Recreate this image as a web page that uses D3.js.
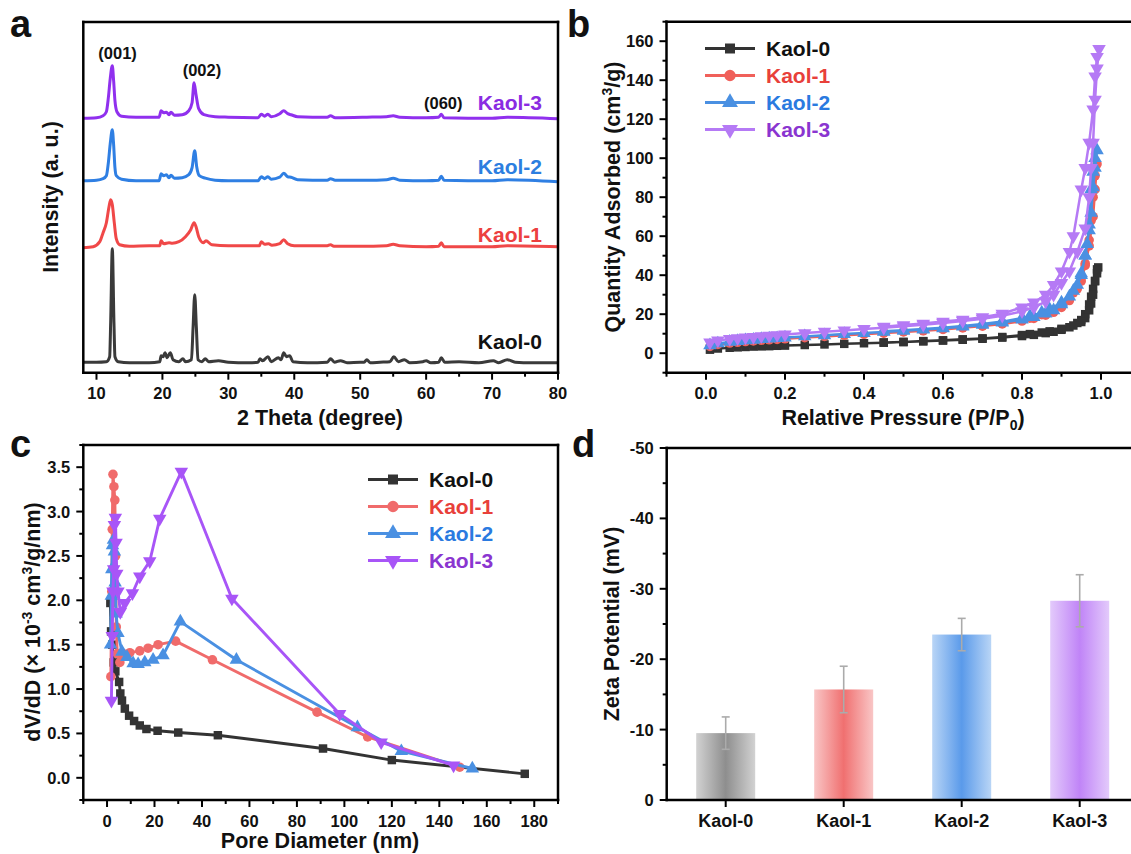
<!DOCTYPE html>
<html><head><meta charset="utf-8">
<script src="https://cdn.jsdelivr.net/npm/d3@7"></script>
<style>
body{margin:0;background:#fff}
text{font-family:"Liberation Sans",Arial,sans-serif;font-weight:bold;fill:#111}
</style>
</head><body><svg id="chart" width="1131" height="854"></svg>
<script>
// ---------------- DATA ----------------
const seriesNames = ["Kaol-0","Kaol-1","Kaol-2","Kaol-3"];

// (a) XRD patterns, [2theta, stacked intensity a.u.]
const xrd0 = [[8,10.5],[10,10.5],[11.5,11],[12.0,16],[12.15,50],[12.4,124],[12.65,50],[12.8,16],[13.3,11],[15,10],[18,10],[19.6,11],[19.8,17],[20.1,16],[20.4,20],[20.7,15],[21.2,20],[21.6,13],[22.5,11],[23.1,14],[23.5,11],[24.4,13],[24.65,45],[24.9,78],[25.15,45],[25.4,13],[26.0,11],[26.5,14],[27,11],[28.5,12],[30,10.5],[33,10],[34.5,10.5],[34.8,14],[35.2,12],[36,16],[36.5,11],[37.6,15],[38,13],[38.4,20],[38.8,16],[39.3,17],[39.8,11],[42,10],[45,10.5],[45.5,14],[46.1,10.5],[47,12],[48,10],[50,10.5],[50.6,10.5],[51,13],[51.5,10],[53,10.5],[54.5,11],[55.1,16],[55.8,11],[56.7,13],[57.5,10],[59.5,11],[60,12],[60.7,10],[61.9,10.5],[62.3,15],[62.8,10.5],[65,11],[68,10],[70.2,12],[71,10],[72.3,13],[73.5,10.5],[76,10],[80,10]];
const xrd1 = [[8,125],[9.5,126],[10.5,131],[11.0,140],[11.5,150],[11.9,166],[12.15,173],[12.4,168],[12.7,150],[13.0,134],[13.5,128],[15,126.5],[18,127],[19.6,127],[19.8,132],[20.2,129],[21.0,130],[21.5,129.5],[22.5,131],[23.5,136],[24.3,143],[24.8,150],[25.1,146],[25.5,136],[26.2,130],[26.6,132],[27.5,128],[30,127],[34,127],[34.7,127],[35,131],[35.5,128.5],[36.1,129],[36.6,127.5],[37.8,129],[38.4,133],[39,129],[40,127],[45,127],[45.5,128],[46,126.5],[50,126.5],[54,127],[55,128.5],[56,127],[60,126],[61.9,126.5],[62.3,130],[62.7,126],[70,126],[72.3,127],[80,126]];
const xrd2 = [[8,192],[10,192.5],[11,194],[11.5,197],[11.8,210],[12.1,230],[12.4,243],[12.6,228],[12.8,205],[13.0,197],[13.8,193.5],[16,192],[19.5,192],[19.8,199],[20.2,197],[20.6,198],[21.0,195],[21.3,197.5],[21.8,194.5],[23,195],[24,198],[24.5,205],[24.9,222],[25.2,206],[25.6,197],[26.5,194.5],[28,192.5],[30,192],[34.5,192],[35,196],[35.5,194],[36,196],[36.5,193.5],[37.8,195.5],[38.4,199.5],[39,196],[39.5,195.5],[40.5,193],[45,192.5],[45.5,194],[46.2,192.5],[51,192.5],[54,193],[55,194.5],[56,192.5],[60,192],[61.9,192.5],[62.3,196.5],[62.7,192.5],[70,192],[72.3,193],[80,191]];
const xrd3 = [[8,254.5],[10,255],[11,257],[11.5,261],[11.8,275],[12.1,295],[12.4,307],[12.6,292],[12.8,272],[13.1,261],[13.8,256.5],[16,255.5],[19.5,255.5],[19.8,262],[20.2,260],[20.6,260.5],[21.0,258],[21.3,260.5],[21.8,257.5],[23,258],[24,262],[24.5,270],[24.8,290],[25.1,278],[25.5,264],[26.3,258],[28,256],[30,255.5],[34.5,255],[35,258.5],[35.5,256.5],[36,258.5],[36.5,256],[37.8,259],[38.4,262],[39,259],[39.5,258],[40.5,256],[45,255.5],[45.5,257],[46.2,255],[51,255.5],[54,256],[55,257],[56,255.5],[60,255],[61.9,255.5],[62.3,258.5],[62.7,255],[70,254.5],[72.3,255.5],[80,254]];
// [label, 2theta position, intensity position]
const xrdPeaks = [["(001)",13.2,313.7],["(002)",26.0,296.7],["(060)",62.6,263.7]];
const xrdLabelVal = [31,138.7,206.7,270];

// (b) N2 isotherms [P/P0, cm3/g] adsorption then desorption
const iso0 = [[0.01,1.8],[0.03,2.4],[0.06,2.8],[0.08,3],[0.1,3.2],[0.12,3.4],[0.14,3.5],[0.16,3.6],[0.18,3.8],[0.2,3.9],[0.25,4.2],[0.3,4.5],[0.35,4.8],[0.4,5.1],[0.45,5.4],[0.5,5.7],[0.55,6.1],[0.6,6.5],[0.65,6.9],[0.7,7.4],[0.75,8],[0.8,8.8],[0.83,9.4],[0.86,10.3],[0.88,11],[0.9,12],[0.92,13.3],[0.94,15.5],[0.95,17],[0.96,20],[0.97,25],[0.975,29],[0.98,33],[0.985,37],[0.99,41],[0.993,44],
  [0.99,43],[0.985,37],[0.98,30],[0.975,25.5],[0.97,22],[0.96,18],[0.95,16],[0.93,14.2],[0.9,12.5],[0.87,11.2],[0.85,10.6],[0.82,9.8],[0.8,9.3],[0.75,8.3],[0.7,7.6],[0.65,7.1],[0.6,6.6],[0.55,6.2],[0.5,5.8],[0.45,5.5]];
const iso1 = [[0.01,3.5],[0.03,4.5],[0.06,5.2],[0.08,5.6],[0.1,6],[0.12,6.3],[0.14,6.6],[0.16,6.9],[0.18,7.1],[0.2,7.4],[0.25,8],[0.3,8.6],[0.35,9.2],[0.4,9.7],[0.45,10.3],[0.5,10.9],[0.55,11.5],[0.6,12.2],[0.65,13],[0.7,13.9],[0.75,15],[0.8,16.5],[0.83,17.8],[0.86,19.5],[0.88,21],[0.9,23.5],[0.92,27],[0.94,33],[0.95,37],[0.96,45],[0.97,55],[0.98,70],[0.985,84],[0.99,97],
  [0.985,91],[0.98,80],[0.975,68],[0.97,58],[0.96,46],[0.95,39],[0.93,31],[0.9,25],[0.87,21.5],[0.85,19.8],[0.82,18],[0.8,17],[0.75,15.4],[0.7,14.2],[0.65,13.3],[0.6,12.4],[0.55,11.7],[0.5,11.1],[0.45,10.5]];
const iso2 = [[0.01,4],[0.03,5],[0.06,5.8],[0.08,6.2],[0.1,6.6],[0.12,6.9],[0.14,7.2],[0.16,7.5],[0.18,7.7],[0.2,8],[0.25,8.6],[0.3,9.2],[0.35,9.8],[0.4,10.3],[0.45,10.9],[0.5,11.5],[0.55,12.1],[0.6,12.8],[0.65,13.6],[0.7,14.5],[0.75,15.7],[0.8,17.2],[0.83,18.5],[0.86,20.3],[0.88,22],[0.9,25],[0.92,29],[0.94,35],[0.95,40],[0.96,50],[0.97,63],[0.975,72],[0.98,85],[0.985,95],[0.99,104],
  [0.985,100],[0.98,93],[0.975,84],[0.97,66],[0.965,56],[0.96,50],[0.95,41],[0.93,32],[0.9,26],[0.87,22.5],[0.85,20.8],[0.82,19],[0.8,18],[0.75,16.2],[0.7,15],[0.65,14],[0.6,13.1],[0.55,12.4],[0.5,11.8],[0.45,11.2]];
const iso3 = [[0.01,5.5],[0.03,6.5],[0.06,7.3],[0.08,7.7],[0.1,8.1],[0.12,8.4],[0.14,8.7],[0.16,9],[0.18,9.3],[0.2,9.6],[0.25,10.3],[0.3,11],[0.35,11.7],[0.4,12.4],[0.45,13.1],[0.5,13.8],[0.55,14.6],[0.6,15.5],[0.65,16.5],[0.7,17.7],[0.75,19.2],[0.8,21.5],[0.83,23.5],[0.86,26.5],[0.88,30],[0.9,36],[0.92,42],[0.94,52],[0.96,64],[0.97,80],[0.975,95],[0.98,108],[0.985,130],[0.99,146],[0.995,156],
  [0.99,152],[0.985,142],[0.98,125],[0.97,108],[0.96,95],[0.95,84],[0.93,60],[0.92,52],[0.9,42],[0.88,35],[0.86,30],[0.83,26],[0.8,23.5],[0.75,20.3],[0.7,18.5],[0.65,17.2],[0.6,16.2],[0.55,15.2],[0.5,14.4],[0.45,13.6]];

// (c) pore size distribution [nm, dV/dD x1e-3]
const psd0 = [[1.4,1.97],[1.7,1.65],[2.2,1.5],[2.8,1.3],[3.5,1.2],[5.1,1.08],[5.6,0.95],[6.3,0.87],[7.5,0.78],[9.3,0.70],[11.4,0.64],[13.8,0.59],[16.6,0.55],[21.3,0.53],[30,0.51],[46.7,0.48],[91,0.33],[120,0.2],[176,0.045]];
const psd1 = [[1.6,1.14],[2.0,2.1],[2.2,2.8],[2.5,3.42],[2.9,3.28],[3.3,3.13],[3.6,2.5],[3.9,1.7],[4.3,1.4],[5.4,1.30],[6.7,1.40],[9.6,1.41],[13.8,1.43],[17.3,1.46],[21.5,1.50],[28.9,1.54],[44.4,1.33],[88.5,0.74],[109.8,0.46],[148.6,0.12]];
const psd2 = [[1.5,1.5],[1.8,2.05],[2.0,2.35],[2.3,2.62],[2.7,2.68],[3.1,2.55],[3.4,2.2],[3.8,1.85],[4.6,1.63],[6.3,1.42],[8.4,1.36],[11,1.29],[13.1,1.28],[15.9,1.30],[19.4,1.33],[23.6,1.38],[30.9,1.76],[54.5,1.33],[105.5,0.57],[124,0.30],[153.9,0.105]];
const psd3 = [[1.85,0.87],[2.2,1.6],[2.5,2.1],[2.8,2.35],[3.1,2.85],[3.5,2.93],[3.8,2.65],[4.1,2.3],[4.6,2.1],[5.6,1.87],[7.5,1.97],[10.7,2.08],[13.8,2.27],[18,2.44],[22.2,2.92],[31.3,3.45],[52.6,2.02],[98,0.72],[115.5,0.4],[146,0.14]];

// (d) zeta potential (mV) and error
const zeta = [-9.5,-15.7,-23.5,-28.3];
const zetaErr = [2.3,3.3,2.3,3.7];

// ---------------- DRAW ----------------
const svg = d3.select("#chart");
const FONT_TICK = 16.5, FONT_TITLE = 21.5, FONT_LEG = 21;

function frame(x0,y0,x1,y1){
  const g = svg.append("g");
  g.append("line").attr("x1",x0).attr("x2",x0).attr("y1",y0).attr("y2",y1);
  g.append("line").attr("x1",x0).attr("x2",x1).attr("y1",y1).attr("y2",y1);
  g.append("line").attr("x1",x0).attr("x2",x1).attr("y1",y0).attr("y2",y0);
  g.append("line").attr("x1",x1).attr("x2",x1).attr("y1",y0).attr("y2",y1);
  g.selectAll("line").attr("stroke","#000").attr("stroke-width",2.5).attr("stroke-linecap","square");
}
function xTicks(scale,y,major,minor,fmt){
  const g = svg.append("g");
  g.selectAll(".mn").data(minor).enter().append("line")
    .attr("x1",d=>scale(d)).attr("x2",d=>scale(d)).attr("y1",y).attr("y2",y+4)
    .attr("stroke","#000").attr("stroke-width",2);
  g.selectAll(".mj").data(major).enter().append("line")
    .attr("x1",d=>scale(d)).attr("x2",d=>scale(d)).attr("y1",y).attr("y2",y+7)
    .attr("stroke","#000").attr("stroke-width",2);
  g.selectAll("text").data(major).enter().append("text")
    .attr("x",d=>scale(d)).attr("y",y+26.5).attr("text-anchor","middle")
    .attr("font-size",FONT_TICK).text(fmt);
}
function yTicks(scale,x,major,minor,fmt){
  const g = svg.append("g");
  g.selectAll(".mn").data(minor).enter().append("line")
    .attr("y1",d=>scale(d)).attr("y2",d=>scale(d)).attr("x1",x).attr("x2",x-4)
    .attr("stroke","#000").attr("stroke-width",2);
  g.selectAll(".mj").data(major).enter().append("line")
    .attr("y1",d=>scale(d)).attr("y2",d=>scale(d)).attr("x1",x).attr("x2",x-7)
    .attr("stroke","#000").attr("stroke-width",2);
  g.selectAll("text").data(major).enter().append("text")
    .attr("x",x-13).attr("y",d=>scale(d)+6).attr("text-anchor","end")
    .attr("font-size",FONT_TICK).text(fmt);
}
function letter(t,x,y){ svg.append("text").attr("x",x).attr("y",y).attr("font-size",38).text(t); }
function sym(type,size){
  const s = size || 72;
  if(type===0) return d3.symbol().type(d3.symbolSquare).size(s)();
  if(type===1) return d3.symbol().type(d3.symbolCircle).size(s)();
  return d3.symbol().type(d3.symbolTriangle).size(s*1.1)();
}
function markers(g,data,x,y,type,color){
  g.selectAll(null).data(data).enter().append("path")
    .attr("d",sym(type))
    .attr("transform",d=>`translate(${x(d[0])},${y(d[1])})`+(type===3?" rotate(180)":""))
    .attr("fill",color);
}

// ---- panel a ----
const ax = d3.scaleLinear().domain([8,80]).range([83.3,558]);
const ay = d3.scaleLinear().domain([0,350.7]).range([372.7,22]);
const xrdColors = ["#3a3a3a","#f04848","#2f7fe3","#9030ee"];
const xrdLabelColors = ["#111","#ec4040","#2c7ee0","#8a2be2"];
const xrdSets = [xrd0,xrd1,xrd2,xrd3];
const aLine = d3.line().x(d=>ax(d[0])).y(d=>ay(d[1])).curve(d3.curveMonotoneX);
xrdSets.forEach((s,i)=>{
  svg.append("path").datum(s).attr("d",aLine).attr("fill","none")
    .attr("stroke",xrdColors[i]).attr("stroke-width",3).attr("stroke-linejoin","round");
});
seriesNames.forEach((n,i)=>{
  svg.append("text").attr("x",542).attr("y",ay(xrdLabelVal[i])+7.5).attr("text-anchor","end")
    .attr("font-size",FONT_LEG).style("fill",xrdLabelColors[i]).text(n);
});
xrdPeaks.forEach(p=>{
  svg.append("text").attr("x",ax(p[1])).attr("y",ay(p[2])).attr("text-anchor","middle")
    .attr("font-size",16.5).text(p[0]);
});
frame(83.3,22,558,372.7);
xTicks(ax,372.7,d3.range(10,81,10),d3.range(15,80,10),d=>d);
svg.append("text").attr("x",320).attr("y",425).attr("text-anchor","middle").attr("font-size",FONT_TITLE).text("2 Theta (degree)");
svg.append("text").attr("transform","translate(58,197) rotate(-90)").attr("text-anchor","middle").attr("font-size",FONT_TITLE).text("Intensity (a. u.)");
letter("a",10,37);

// ---- panel b ----
const bx = d3.scaleLinear().domain([-0.1,1.1]).range([666.5,1140.5]);
const by = d3.scaleLinear().domain([-10,170]).range([372.7,21.7]);
const bColors = ["#333333","#f0605a","#4a90e2","#b57af5"];
const bText = ["#111","#e8403a","#2a7ae0","#8a35d0"];
const isoSets = [iso0,iso1,iso2,iso3];
const bLine = d3.line().x(d=>bx(d[0])).y(d=>by(d[1]));
isoSets.forEach((s,i)=>{
  const g = svg.append("g");
  g.append("path").datum(s).attr("d",bLine).attr("fill","none").attr("stroke",bColors[i]).attr("stroke-width",2.5).attr("stroke-linejoin","round");
  markers(g,s,bx,by,i,bColors[i]);
});
frame(666.5,21.7,1140.5,372.7);
xTicks(bx,372.7,d3.range(0,5.5,1).map(d=>d*0.2),[-0.1,0.1,0.3,0.5,0.7,0.9,1.1],d=>d3.format(".1f")(d));
yTicks(by,666.5,d3.range(0,161,20),d3.range(-10,171,20),d=>d);
seriesNames.forEach((n,i)=>{
  const yy = 48.5 + i*27;
  const g = svg.append("g");
  g.append("line").attr("x1",705).attr("x2",755).attr("y1",yy).attr("y2",yy).attr("stroke",bColors[i]).attr("stroke-width",2.8);
  g.append("path").attr("d",sym(i,100)).attr("transform",`translate(730,${yy})`+(i===3?" rotate(180)":"")).attr("fill",bColors[i]);
  g.append("text").attr("x",766).attr("y",yy+7.5).attr("font-size",FONT_LEG).style("fill",bText[i]).text(n);
});
const bxt = svg.append("text").attr("x",903).attr("y",425).attr("text-anchor","middle").attr("font-size",FONT_TITLE);
bxt.append("tspan").text("Relative Pressure (P/P");
bxt.append("tspan").attr("font-size",14).attr("dy",5).text("0");
bxt.append("tspan").attr("dy",-5).text(")");
const byt = svg.append("text").attr("transform","translate(620,197) rotate(-90)").attr("text-anchor","middle").attr("font-size",FONT_TITLE);
byt.append("tspan").text("Quantity Adsorbed (cm");
byt.append("tspan").attr("font-size",14).attr("dy",-8).text("3");
byt.append("tspan").attr("dy",8).text("/g)");
letter("b",567,37);

// ---- panel c ----
const cx = d3.scaleLinear().domain([-10,190]).range([83.3,558]);
const cy = d3.scaleLinear().domain([-0.25,3.75]).range([800,445]);
const cColors = ["#333333","#f06b6b","#4a90e2","#a855f7"];
const cText = ["#111","#e8403a","#2a7ae0","#8a35d0"];
const psdSets = [psd0,psd1,psd2,psd3];
const cLine = d3.line().x(d=>cx(d[0])).y(d=>cy(d[1]));
psdSets.forEach((s,i)=>{
  const g = svg.append("g");
  g.append("path").datum(s).attr("d",cLine).attr("fill","none").attr("stroke",cColors[i]).attr("stroke-width",2.9).attr("stroke-linejoin","round");
  markers(g,s,cx,cy,i,cColors[i]);
});
frame(83.3,445,558,800);
xTicks(cx,800,d3.range(0,181,20),d3.range(-10,191,20),d=>d);
yTicks(cy,83.3,d3.range(0,3.51,0.5),d3.range(-0.25,3.76,0.5),d=>d3.format(".1f")(d));
seriesNames.forEach((n,i)=>{
  const yy = 479.5 + i*27;
  const g = svg.append("g");
  g.append("line").attr("x1",368).attr("x2",418).attr("y1",yy).attr("y2",yy).attr("stroke",cColors[i]).attr("stroke-width",2.9);
  g.append("path").attr("d",sym(i,100)).attr("transform",`translate(393,${yy})`+(i===3?" rotate(180)":"")).attr("fill",cColors[i]);
  g.append("text").attr("x",429).attr("y",yy+7.5).attr("font-size",FONT_LEG).style("fill",cText[i]).text(n);
});
svg.append("text").attr("x",320).attr("y",848).attr("text-anchor","middle").attr("font-size",FONT_TITLE).text("Pore Diameter (nm)");
const cyt = svg.append("text").attr("transform","translate(40,622) rotate(-90)").attr("text-anchor","middle").attr("font-size",FONT_TITLE);
cyt.append("tspan").text("dV/dD (× 10");
cyt.append("tspan").attr("font-size",14).attr("dy",-8).text("-3");
cyt.append("tspan").attr("dy",8).text(" cm");
cyt.append("tspan").attr("font-size",14).attr("dy",-8).text("3");
cyt.append("tspan").attr("dy",8).text("/g/nm)");
letter("c",10,457);

// ---- panel d ----
const dx = d3.scaleBand().domain(seriesNames).range([666.7,1138.7]).paddingInner(0.5).paddingOuter(0.25);
const dy = d3.scaleLinear().domain([0,-50]).range([800,448]);
const gradStops = [["#d2d2d2","#8e8e8e"],["#f9c6c6","#f07070"],["#b9d5f6","#5a9aea"],["#e3cafb","#c084f7"]];
const defs = svg.append("defs");
gradStops.forEach((c,i)=>{
  const lg = defs.append("linearGradient").attr("id","g"+i).attr("x1","0").attr("x2","1").attr("y1","0").attr("y2","0");
  lg.append("stop").attr("offset","0%").attr("stop-color",c[0]);
  lg.append("stop").attr("offset","50%").attr("stop-color",c[1]);
  lg.append("stop").attr("offset","100%").attr("stop-color",c[0]);
});
svg.append("g").selectAll("rect").data(zeta).enter().append("rect")
  .attr("x",(d,i)=>dx(seriesNames[i])).attr("width",dx.bandwidth())
  .attr("y",d=>dy(d)).attr("height",d=>dy(0)-dy(d))
  .attr("fill",(d,i)=>`url(#g${i})`);
const eg = svg.append("g").attr("stroke","#ababab").attr("stroke-width",1.6);
zeta.forEach((v,i)=>{
  const c = dx(seriesNames[i])+dx.bandwidth()/2;
  eg.append("line").attr("x1",c).attr("x2",c).attr("y1",dy(v-zetaErr[i])).attr("y2",dy(v+zetaErr[i]));
  eg.append("line").attr("x1",c-4).attr("x2",c+4).attr("y1",dy(v-zetaErr[i])).attr("y2",dy(v-zetaErr[i]));
  eg.append("line").attr("x1",c-4).attr("x2",c+4).attr("y1",dy(v+zetaErr[i])).attr("y2",dy(v+zetaErr[i]));
});
frame(666.7,448,1140,800);
yTicks(dy,666.7,d3.range(0,-51,-10),d3.range(-5,-50,-10),d=>d);
const dg = svg.append("g");
seriesNames.forEach(n=>{
  const c = dx(n)+dx.bandwidth()/2;
  dg.append("line").attr("x1",c).attr("x2",c).attr("y1",800).attr("y2",807).attr("stroke","#000").attr("stroke-width",2);
  dg.append("text").attr("x",c).attr("y",827).attr("text-anchor","middle").attr("font-size",18).text(n);
});
svg.append("text").attr("transform","translate(619,624) rotate(-90)").attr("text-anchor","middle").attr("font-size",FONT_TITLE).text("Zeta Potential (mV)");
letter("d",572,457);
</script></body></html>
